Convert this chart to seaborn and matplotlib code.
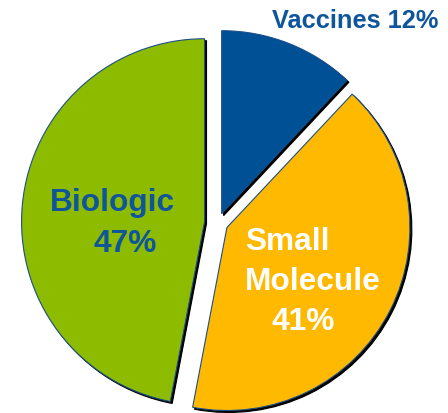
import matplotlib
matplotlib.use('Agg')
import matplotlib.pyplot as plt
import seaborn as sns

# Pipeline split by modality
categories = ['Vaccines', 'Small Molecule', 'Biologic']
shares = [12, 41, 47]

colors = ['#005096', '#FFB900', '#8CBB00']

sns.set_theme(style='white')
plt.rcParams['font.family'] = ['Liberation Sans', 'DejaVu Sans']

W, H = 448, 413
R = 183
fig = plt.figure(figsize=(W / 100, H / 100), dpi=100)
ax = fig.add_axes([0, 0, 1, 1])

# explode is in data units here (axes = pixels)
ax.pie(shares, colors=colors, explode=[10, 10, 13.5], startangle=90, counterclock=False,
       center=(218, H - 223), radius=R,
       wedgeprops={'edgecolor': '#1b4f8a', 'linewidth': 0.8},
       shadow={'ox': 1.4, 'oy': -1.4, 'shade': 1.0, 'alpha': 1.0})

ax.set_xlim(0, W)
ax.set_ylim(0, H)
ax.set_aspect('equal')
ax.axis('off')

blue_txt = '#0F559C'
# Vaccines label above the pie
ax.text(355, H - 28, f'{categories[0]} {shares[0]}%', ha='center', va='baseline',
        fontsize=18.3, fontweight='bold', color=blue_txt)
# Biologic
ax.text(112, H - 211, categories[2], ha='center', va='baseline',
        fontsize=22.8, fontweight='bold', color=blue_txt)
ax.text(125, H - 252, f'{shares[2]}%', ha='center', va='baseline',
        fontsize=22.8, fontweight='bold', color=blue_txt)
# Small Molecule
small, molecule = categories[1].split()
ax.text(245, H - 250, small, ha='left', va='baseline',
        fontsize=22.8, fontweight='bold', color='white')
ax.text(245, H - 290, molecule, ha='left', va='baseline',
        fontsize=22.8, fontweight='bold', color='white')
ax.text(303, H - 330, f'{shares[1]}%', ha='center', va='baseline',
        fontsize=22.8, fontweight='bold', color='white')

fig.savefig('out.png', dpi=100)
